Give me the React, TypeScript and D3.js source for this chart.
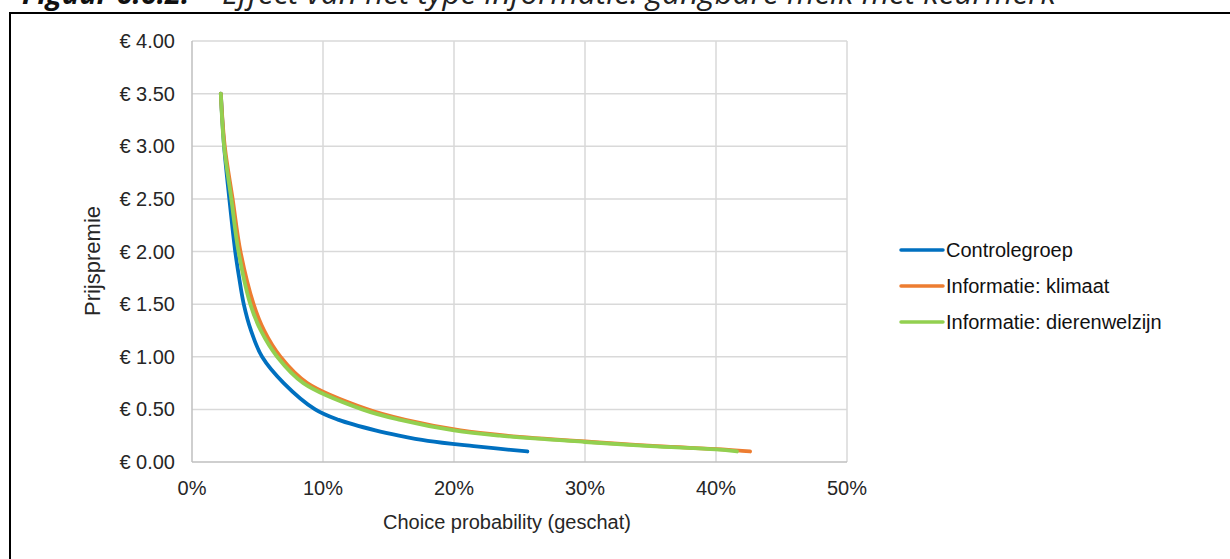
import React, { useEffect, useRef } from "react";
import * as d3 from "d3";

// Price premium levels (€) and estimated choice probabilities (%)
const controlPrice = [3.5, 3.0, 2.5, 2.0, 1.75, 1.5, 1.25, 1.0, 0.75, 0.5, 0.4, 0.3, 0.25, 0.2, 0.15, 0.1];
const controlProb = [2.2, 2.45, 2.85, 3.3, 3.6, 3.95, 4.5, 5.35, 7.0, 9.4, 11.2, 14.0, 15.8, 18.0, 21.5, 25.6];

const klimaatPrice = [3.5, 3.0, 2.5, 2.0, 1.5, 1.25, 1.0, 0.75, 0.5, 0.4, 0.3, 0.25, 0.19, 0.15, 0.12, 0.1];
const klimaatProb = [2.2, 2.5, 3.1, 3.7, 4.7, 5.5, 6.75, 8.8, 13.4, 16.3, 20.5, 24.0, 30.5, 35.5, 40.5, 42.6];

const dierPrice = [3.5, 3.0, 2.5, 2.0, 1.5, 1.25, 1.0, 0.75, 0.5, 0.4, 0.3, 0.25, 0.19, 0.15, 0.12, 0.1];
const dierProb = [2.2, 2.45, 3.0, 3.55, 4.45, 5.25, 6.5, 8.5, 13.0, 15.9, 20.0, 23.5, 30.0, 35.0, 40.0, 41.6];

const seriesNames = ["Controlegroep", "Informatie: klimaat", "Informatie: dierenwelzijn"];
const seriesColors = ["#0070C0", "#ED7D31", "#92D050"];

const yTicks = [0, 0.5, 1, 1.5, 2, 2.5, 3, 3.5, 4];
const xTicks = [0, 10, 20, 30, 40, 50];

const titleBold = "Figuur 6.6.2:";
const titleRest = "Effect van het type informatie: gangbare melk met keurmerk";
const xTitle = "Choice probability (geschat)";
const yTitle = "Prijspremie";

export default function App() {
  const ref = useRef<SVGSVGElement | null>(null);

  useEffect(() => {
    const svg = d3.select(ref.current);
    svg.selectAll("*").remove();

    const x = d3.scaleLinear().domain([0, 50]).range([192, 847]);
    const y = d3.scaleLinear().domain([0, 4]).range([462, 41]);
    const font = "'Liberation Sans', Arial, sans-serif";
    const textColor = "#262626";

    // outer frame
    svg.append("rect").attr("x", 10).attr("y", 13).attr("width", 1240).attr("height", 600)
      .attr("fill", "none").attr("stroke", "#000").attr("stroke-width", 2);

    // title (cut off at top of the picture)
    svg.append("text").attr("x", 22).attr("y", 4).attr("font-family", "'Open Sans', sans-serif")
      .attr("font-size", 29).attr("font-style", "italic").attr("font-weight", "bold").attr("fill", "#111")
      .text(titleBold);
    svg.append("text").attr("x", 222).attr("y", 4).attr("font-family", "'Open Sans', sans-serif")
      .attr("font-size", 31.5).attr("font-style", "italic").attr("fill", "#222")
      .text(titleRest);

    // gridlines
    const grid = svg.append("g");
    yTicks.filter(t => t > 0).forEach(t => {
      grid.append("line").attr("x1", x(0)).attr("x2", x(50)).attr("y1", y(t)).attr("y2", y(t))
        .attr("stroke", "#d9d9d9").attr("stroke-width", 1.5);
    });
    xTicks.filter(t => t > 0).forEach(t => {
      grid.append("line").attr("x1", x(t)).attr("x2", x(t)).attr("y1", y(0)).attr("y2", y(4))
        .attr("stroke", "#d9d9d9").attr("stroke-width", 1.5);
    });
    // axes lines
    svg.append("line").attr("x1", x(0)).attr("x2", x(0)).attr("y1", y(0)).attr("y2", y(4))
      .attr("stroke", "#bfbfbf").attr("stroke-width", 1.5);
    svg.append("line").attr("x1", x(0)).attr("x2", x(50)).attr("y1", y(0)).attr("y2", y(0))
      .attr("stroke", "#bfbfbf").attr("stroke-width", 1.5);

    // tick labels
    yTicks.forEach(t => {
      svg.append("text").attr("x", 175).attr("y", y(t)).attr("dy", "0.35em")
        .attr("text-anchor", "end").attr("font-family", font).attr("font-size", 20)
        .attr("fill", textColor).text("€ " + t.toFixed(2));
    });
    xTicks.forEach(t => {
      svg.append("text").attr("x", x(t)).attr("y", 488).attr("dy", "0.35em")
        .attr("text-anchor", "middle").attr("font-family", font).attr("font-size", 20)
        .attr("fill", textColor).text(t + "%");
    });

    // axis titles
    svg.append("text").attr("x", 507).attr("y", 522).attr("dy", "0.35em")
      .attr("text-anchor", "middle").attr("font-family", font).attr("font-size", 20)
      .attr("fill", textColor).text(xTitle);
    svg.append("text").attr("transform", "translate(92,261) rotate(-90)").attr("dy", "0.35em")
      .attr("text-anchor", "middle").attr("font-family", font).attr("font-size", 22)
      .attr("fill", textColor).text(yTitle);

    // lines
    const data = [
      controlProb.map((p, i) => ({ p, v: controlPrice[i] })),
      klimaatProb.map((p, i) => ({ p, v: klimaatPrice[i] })),
      dierProb.map((p, i) => ({ p, v: dierPrice[i] })),
    ];
    const line = d3.line<{ p: number; v: number }>()
      .x(d => x(d.p)).y(d => y(d.v)).curve(d3.curveCatmullRom.alpha(0.5));
    data.forEach((d, i) => {
      svg.append("path").attr("d", line(d) as string).attr("fill", "none")
        .attr("stroke", seriesColors[i]).attr("stroke-width", 3.8)
        .attr("stroke-linecap", "round").attr("stroke-linejoin", "round");
    });

    // legend
    seriesNames.forEach((name, i) => {
      const ly = 250 + i * 36;
      svg.append("line").attr("x1", 901).attr("x2", 943).attr("y1", ly).attr("y2", ly)
        .attr("stroke", seriesColors[i]).attr("stroke-width", 3.5).attr("stroke-linecap", "round");
      svg.append("text").attr("x", 946).attr("y", ly).attr("dy", "0.35em")
        .attr("font-family", font).attr("font-size", 20).attr("fill", "#111").text(name);
    });
  }, []);

  return (
    <svg ref={ref} width={1230} height={559}
      style={{ position: "absolute", left: 0, top: 0, background: "#fff" }} />
  );
}
